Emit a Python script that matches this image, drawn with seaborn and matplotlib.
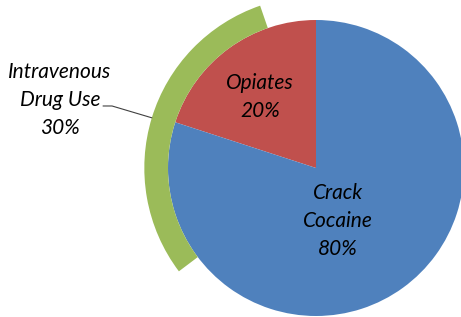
import numpy as np
import matplotlib
matplotlib.use("Agg")
import matplotlib.pyplot as plt
import seaborn as sns

# data
pie_labels = ["Opiates", "Crack\nCocaine"]
pie_values = [20, 80]
ring_label = "Intravenous\nDrug Use"
ring_value = 30
colors = ["#C0504D", "#4F81BD"]
ring_color = "#9BBB59"

sns.set_style("white")
plt.rcParams['font.family'] = ['Lato', 'DejaVu Sans']

fig = plt.figure(figsize=(4.61, 3.17), dpi=100)
ax = fig.add_axes([0, 0, 1, 1])

# main pie, starting at 12 o'clock going counter-clockwise
ax.pie(pie_values, colors=colors, startangle=90, counterclock=True,
       radius=1.0, wedgeprops=dict(linewidth=0))

# outer arc for the overlapping share
ring_start = 109
ax.pie([ring_value, 100 - ring_value], colors=[ring_color, (0, 0, 0, 0)],
       startangle=ring_start, counterclock=True, radius=1.16,
       wedgeprops=dict(width=0.16, linewidth=0))

tfont = dict(fontsize=15, style='italic', color='black', ha='center',
             va='center', linespacing=1.5)
ax.text(-0.378, 0.483, "%s\n%d%%" % (pie_labels[0], pie_values[0]), **tfont)
ax.text(0.149, -0.358, "%s\n%d%%" % (pie_labels[1], pie_values[1]), **tfont)
ax.text(-1.73, 0.459, "%s\n%d%%" % (ring_label, ring_value), **tfont)

# leader line to the middle of the arc
mid = np.deg2rad(ring_start + ring_value * 3.6 / 2)
ex, ey = 1.16 * np.cos(mid), 1.16 * np.sin(mid)
ax.plot([-1.439, -1.378, ex], [0.419, 0.419, ey], color='#404040', lw=0.8)

ax.set_xlim(-316 / 148, 145 / 148)
ax.set_ylim(-149 / 148, 168 / 148)
ax.set_aspect('equal')
ax.axis('off')

fig.savefig("out.png", dpi=100)
